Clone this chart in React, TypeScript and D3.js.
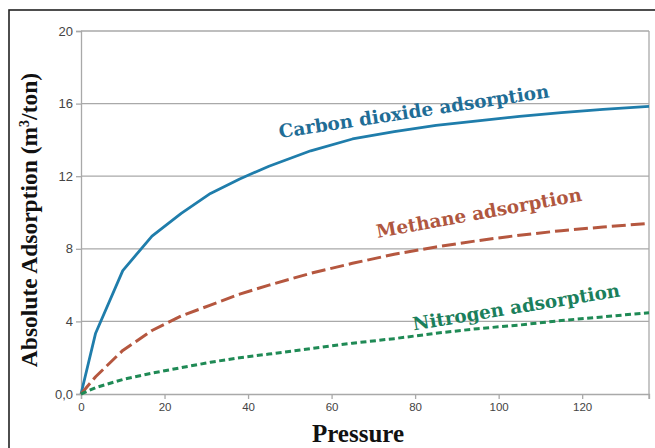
import { useEffect, useRef } from "react";
import * as d3 from "d3";

// pressure points and absolute adsorption
const pressure = [0, 3.5, 10, 17, 24, 31, 38, 45, 55, 65, 75, 85, 95, 105, 115, 125, 136];
const co2 = [0, 3.35, 6.8, 8.7, 9.95, 11.05, 11.85, 12.55, 13.4, 14.05, 14.45, 14.8, 15.05, 15.3, 15.5, 15.68, 15.85];
const methane = [0, 0.95, 2.4, 3.5, 4.3, 4.9, 5.5, 6.0, 6.65, 7.2, 7.7, 8.1, 8.45, 8.75, 9.0, 9.2, 9.4];
const nitrogen = [0, 0.35, 0.8, 1.15, 1.45, 1.75, 2.0, 2.2, 2.5, 2.8, 3.05, 3.35, 3.6, 3.8, 4.05, 4.25, 4.48];

const xTicks = [0, 20, 40, 60, 80, 100, 120];
const yTicks = [0, 4, 8, 12, 16, 20];

const series = [
  { name: "Carbon dioxide adsorption", values: co2, color: "#1f7dab", text: "#1f6d96", dash: null, width: 2.8, lx: 47.6, ly: 14.1, angle: -8.6 },
  { name: "Methane adsorption", values: methane, color: "#b5573f", text: "#b0573f", dash: "14,5", width: 3, lx: 71, ly: 8.6, angle: -10.3 },
  { name: "Nitrogen adsorption", values: nitrogen, color: "#1f8a55", text: "#1b7f5c", dash: "6,3.5", width: 3, lx: 79.7, ly: 3.5, angle: -9.4 },
];

export default function App() {
  const ref = useRef<SVGGElement>(null);
  const W = 655, H = 448;
  const margin = { top: 31, left: 81, right: 6, bottom: 54 };
  const width = W - margin.left - margin.right;
  const height = H - margin.top - margin.bottom;

  useEffect(() => {
    const g = d3.select(ref.current);
    g.selectAll("*").remove();

    const x = d3.scaleLinear().domain([0, 136]).range([0, width]);
    const y = d3.scaleLinear().domain([0, 20]).range([height, 0]);

    // grid
    g.append("g")
      .selectAll("line")
      .data(yTicks.filter(d => d > 0))
      .join("line")
      .attr("x1", 0).attr("x2", width)
      .attr("y1", d => y(d)).attr("y2", d => y(d))
      .attr("stroke", "#a9a9a9").attr("stroke-width", 1.3);
    g.append("line")
      .attr("x1", width).attr("x2", width).attr("y1", 0).attr("y2", height + 5)
      .attr("stroke", "#a9a9a9").attr("stroke-width", 1.3);

    const xAxis = g.append("g")
      .attr("transform", `translate(0,${height})`)
      .call(d3.axisBottom(x).tickValues(xTicks).tickSize(5).tickPadding(4));
    const yAxis = g.append("g")
      .call(d3.axisLeft(y).tickValues(yTicks).tickSize(5).tickPadding(3)
        .tickFormat(d => (d === 0 ? "0,0" : String(d))));
    [xAxis, yAxis].forEach(a => {
      a.select(".domain").attr("stroke", "#a9a9a9").attr("stroke-width", 1.3);
      a.selectAll(".tick line").attr("stroke", "#a9a9a9").attr("stroke-width", 1.3);
      a.selectAll(".tick text")
        .attr("fill", "#444").attr("font-family", "Liberation Sans, Arial, sans-serif");
    });
    xAxis.selectAll(".tick text").attr("font-size", 11.5);
    yAxis.selectAll(".tick text").attr("font-size", 13);

    const line = d3.line<number>()
      .x((_, i) => x(pressure[i]))
      .y(d => y(d));

    series.forEach(s => {
      g.append("path")
        .datum(s.values)
        .attr("d", line)
        .attr("fill", "none")
        .attr("stroke", s.color)
        .attr("stroke-width", s.width)
        .attr("stroke-dasharray", s.dash)
        .attr("stroke-linejoin", "round");
      g.append("text")
        .attr("transform", `translate(${x(s.lx)},${y(s.ly)}) rotate(${s.angle})`)
        .attr("font-family", "DejaVu Serif, serif")
        .attr("font-weight", "bold")
        .attr("font-size", 18.4)
        .attr("fill", s.text)
        .text(s.name);
    });
  }, []);

  return (
    <svg width={W} height={H} style={{ position: "absolute", left: 0, top: 0, background: "#fff" }}>
      <rect x={9} y={10} width={700} height={500} fill="none" stroke="#222" strokeWidth={1.6} />
      <g ref={ref} transform={`translate(${margin.left},${margin.top})`} />
      <text
        transform="translate(37,220) rotate(-90)"
        textAnchor="middle"
        fontFamily="Liberation Serif, Times New Roman, serif"
        fontWeight="bold"
        fontSize={23.5}
        fill="#111"
      >
        Absolute Adsorption (m<tspan fontSize={14} dy={-8}>3</tspan><tspan dy={8}>/ton)</tspan>
      </text>
      <text
        x={358}
        y={442}
        textAnchor="middle"
        fontFamily="Liberation Serif, Times New Roman, serif"
        fontWeight="bold"
        fontSize={25}
        fill="#111"
      >
        Pressure
      </text>
    </svg>
  );
}
